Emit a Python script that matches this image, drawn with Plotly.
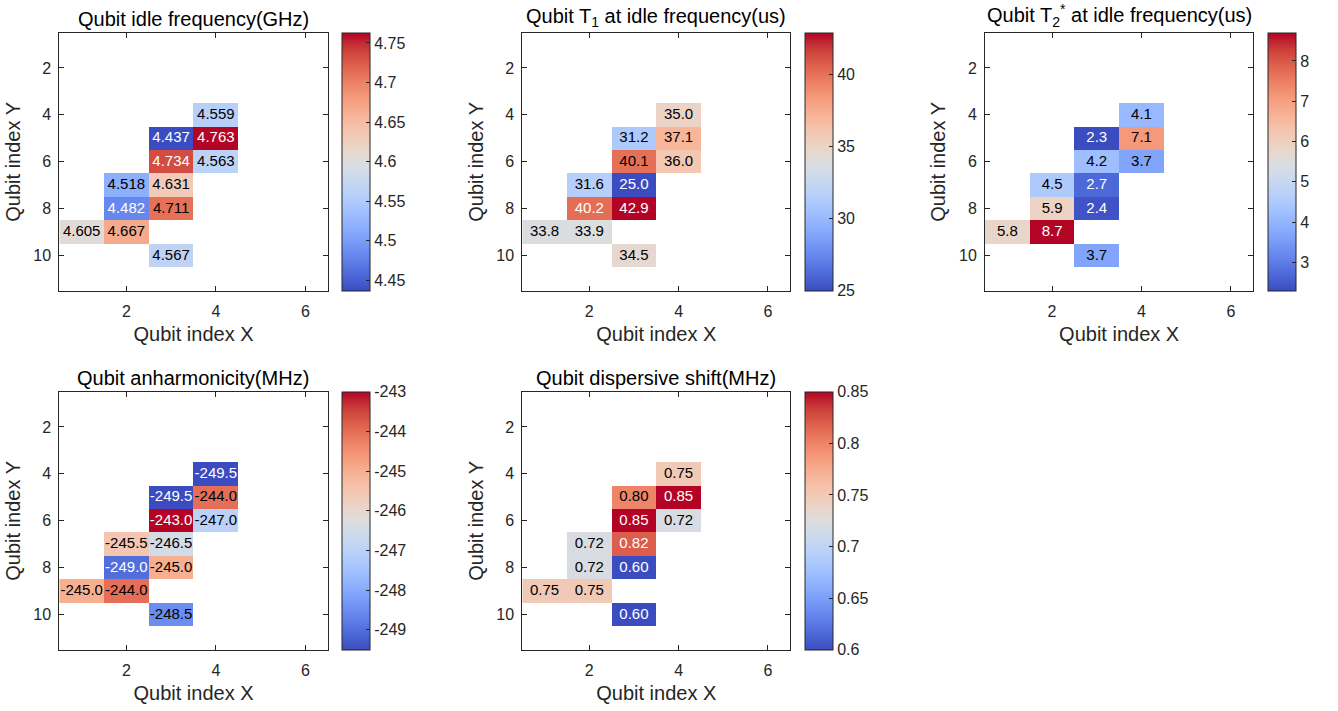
import plotly.graph_objects as go

# ---- data ----
qubit_x = [4, 3, 4, 3, 4, 2, 3, 2, 3, 1, 2, 3]
qubit_y = [4, 5, 5, 6, 6, 7, 7, 8, 8, 9, 9, 10]

idle_freq_ghz = [4.559, 4.437, 4.763, 4.734, 4.563, 4.518, 4.631, 4.482, 4.711, 4.605, 4.667, 4.567]
t1_us = [35.0, 31.2, 37.1, 40.1, 36.0, 31.6, 25.0, 40.2, 42.9, 33.8, 33.9, 34.5]
t2_us = [4.1, 2.3, 7.1, 4.2, 3.7, 4.5, 2.7, 5.9, 2.4, 5.8, 8.7, 3.7]
anharm_mhz = [-249.5, -249.5, -244.0, -243.0, -247.0, -245.5, -246.5, -249.0, -245.0, -245.0, -244.0, -248.5]
disp_mhz = [0.75, 0.80, 0.85, 0.85, 0.72, 0.72, 0.82, 0.72, 0.60, 0.75, 0.75, 0.60]

x_ticks = [2, 4, 6]
y_ticks = [2, 4, 6, 8, 10]
n_cols = 6
n_rows = 11

freq_cb_ticks = [4.45, 4.5, 4.55, 4.6, 4.65, 4.7, 4.75]
freq_cb_labels = ["4.45", "4.5", "4.55", "4.6", "4.65", "4.7", "4.75"]
t1_cb_ticks = [25, 30, 35, 40]
t1_cb_labels = ["25", "30", "35", "40"]
t2_cb_ticks = [3, 4, 5, 6, 7, 8]
t2_cb_labels = ["3", "4", "5", "6", "7", "8"]
anh_cb_ticks = [-249, -248, -247, -246, -245, -244, -243]
anh_cb_labels = ["-249", "-248", "-247", "-246", "-245", "-244", "-243"]
disp_cb_ticks = [0.6, 0.65, 0.7, 0.75, 0.8, 0.85]
disp_cb_labels = ["0.6", "0.65", "0.7", "0.75", "0.8", "0.85"]

titles = [
    "Qubit idle frequency(GHz)",
    "Qubit T<sub>1</sub> at idle frequency(us)",
    "Qubit T<sub>2</sub><sup>*</sup> at idle frequency(us)",
    "Qubit anharmonicity(MHz)",
    "Qubit dispersive shift(MHz)",
]

# ---- style ----
W, H = 1338, 711
FONT = "Liberation Sans, Arial, sans-serif"
AX = "#262626"

coolwarm = [
    [0.0, "rgb(59,76,192)"], [0.0625, "rgb(77,104,215)"], [0.125, "rgb(98,130,234)"],
    [0.1875, "rgb(119,154,247)"], [0.25, "rgb(141,176,254)"], [0.3125, "rgb(163,194,255)"],
    [0.375, "rgb(184,208,249)"], [0.4375, "rgb(204,217,238)"], [0.5, "rgb(221,221,221)"],
    [0.5625, "rgb(236,211,197)"], [0.625, "rgb(245,196,173)"], [0.6875, "rgb(247,177,148)"],
    [0.75, "rgb(244,154,123)"], [0.8125, "rgb(236,127,99)"], [0.875, "rgb(222,96,77)"],
    [0.9375, "rgb(203,62,56)"], [1.0, "rgb(180,4,38)"],
]

panels = [
    dict(vals=idle_freq_ghz, fmt="{:.3f}", zmin=4.437, zmax=4.763, tv=freq_cb_ticks, tt=freq_cb_labels),
    dict(vals=t1_us, fmt="{:.1f}", zmin=25.0, zmax=42.9, tv=t1_cb_ticks, tt=t1_cb_labels),
    dict(vals=t2_us, fmt="{:.1f}", zmin=2.3, zmax=8.7, tv=t2_cb_ticks, tt=t2_cb_labels),
    dict(vals=anharm_mhz, fmt="{:.1f}", zmin=-249.5, zmax=-243.0, tv=anh_cb_ticks, tt=anh_cb_labels),
    dict(vals=disp_mhz, fmt="{:.2f}", zmin=0.60, zmax=0.85, tv=disp_cb_ticks, tt=disp_cb_labels),
]

# pixel boxes of each axes: (left, right, colorbar-left) and (top, bottom)
col_px = [(59.3, 327.7, 342), (522.3, 790.3, 805), (985, 1253.3, 1268)]
row_px = [(32.7, 291), (391.7, 650)]
cb_thick = 28

fig = go.Figure()
layout = dict(
    width=W, height=H, margin=dict(l=0, r=0, t=0, b=0),
    paper_bgcolor="white", plot_bgcolor="white", showlegend=False,
    font=dict(family=FONT, color=AX),
)
annotations = []

for i, p in enumerate(panels):
    r, c = divmod(i, 3)
    left, right, cbl = col_px[c]
    top, bot = row_px[r]
    sfx = "" if i == 0 else str(i + 1)
    xa, ya = "x" + sfx, "y" + sfx

    grid = [[None] * n_cols for _ in range(n_rows)]
    for x, y, v in zip(qubit_x, qubit_y, p["vals"]):
        grid[y - 1][x - 1] = v

    fig.add_trace(go.Heatmap(
        x=list(range(1, n_cols + 1)), y=list(range(1, n_rows + 1)), z=grid,
        colorscale=coolwarm, zmin=p["zmin"], zmax=p["zmax"], xaxis=xa, yaxis=ya,
        hoverongaps=False,
        colorbar=dict(
            x=cbl / W, xanchor="left", xpad=0, ypad=0,
            y=1 - top / H, yanchor="top", lenmode="pixels", len=bot - top,
            thicknessmode="pixels", thickness=cb_thick,
            outlinewidth=1, outlinecolor=AX,
            tickmode="array", tickvals=p["tv"], ticktext=p["tt"],
            ticks="inside", ticklen=4, tickcolor=AX,
            tickfont=dict(family=FONT, size=16, color=AX),
        ),
    ))

    rng = p["zmax"] - p["zmin"]
    colors = []
    for v in p["vals"]:
        n = (v - p["zmin"]) / rng
        colors.append("white" if (n < 0.15 or n > 0.8475) else "black")
    fig.add_trace(go.Scatter(
        x=qubit_x, y=qubit_y, mode="text", text=[p["fmt"].format(v) for v in p["vals"]],
        textposition="middle center", xaxis=xa, yaxis=ya, hoverinfo="skip",
        textfont=dict(family=FONT, size=15, color=colors),
    ))

    common = dict(showline=True, linecolor=AX, linewidth=1, mirror="ticks", ticks="inside",
                  ticklen=5, tickcolor=AX, showgrid=False, zeroline=False,
                  tickfont=dict(family=FONT, size=16, color=AX), automargin=False)
    layout["xaxis" + sfx] = dict(
        common, domain=[left / W, right / W], range=[0.5, 6.5], anchor=ya,
        tickmode="array", tickvals=x_ticks, ticklabelstandoff=6,
        title=dict(text="Qubit index X", font=dict(family=FONT, size=20, color=AX), standoff=7),
    )
    layout["yaxis" + sfx] = dict(
        common, domain=[1 - bot / H, 1 - top / H], range=[n_rows + 0.5, 0.5], anchor=xa,
        tickmode="array", tickvals=y_ticks, ticklabelstandoff=4,
        title=dict(text="Qubit index Y", font=dict(family=FONT, size=20, color=AX), standoff=7),
    )
    annotations.append(dict(
        text=titles[i], xref=xa + " domain", yref=ya + " domain", x=0.5, y=1,
        xanchor="center", yanchor="bottom", yshift=1, showarrow=False,
        font=dict(family=FONT, size=20, color="black"),
    ))

layout["annotations"] = annotations
fig.update_layout(**layout)
fig.write_html("out.html")
